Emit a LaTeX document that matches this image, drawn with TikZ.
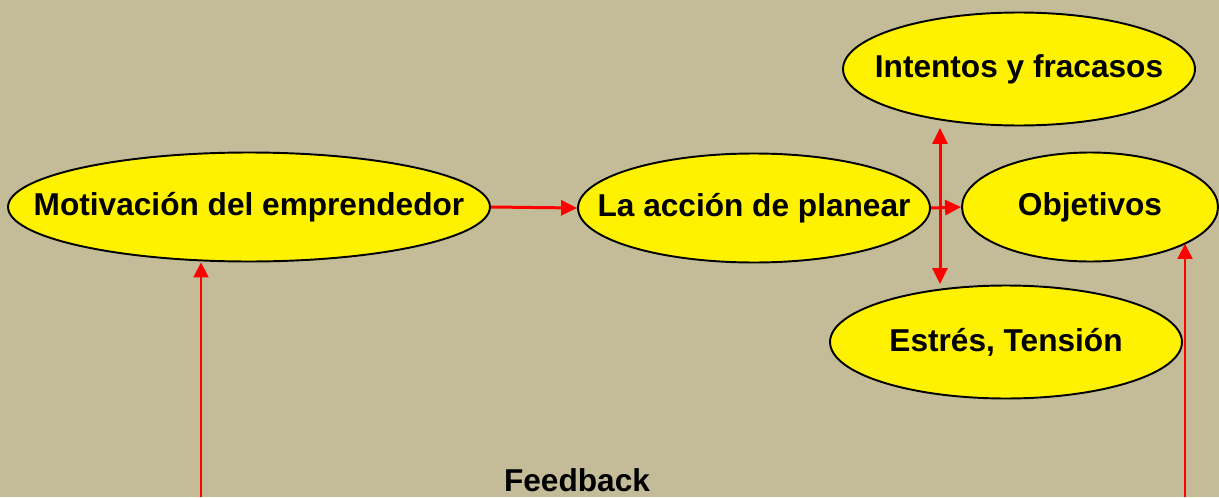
\documentclass[tikz,border=0pt]{standalone}
\usepackage{fontspec}
\setmainfont{Liberation Sans}
\usetikzlibrary{shapes.geometric,arrows.meta}
\definecolor{fondo}{RGB}{196,188,152}
\begin{document}
\begin{tikzpicture}[x=0.02cm,y=-0.02cm,
    idea/.style={shape=ellipse,draw=black,line width=1.1pt,fill=yellow,
      inner sep=0pt,minimum height=2.18cm,
      label={[font=\fontsize{18}{20}\selectfont\bfseries]center:#1}},
    flecha/.style={color=red,line width=1.7pt,-{Triangle[length=0.32cm,width=0.3cm]}},
    retro/.style={color=red,line width=1.2pt,-{Triangle[length=0.3cm,width=0.3cm]}}]
      \fill[fondo] (0,0) rectangle (1219,497);
      \useasboundingbox (0,0) rectangle (1219,497);
      \node[idea={Motivación del emprendedor},minimum width=9.64cm] (M)  at (249,207) {};
      \node[idea={La acción de planear},minimum width=7.04cm] (P)  at (754,208) {};
      \node[idea={Objetivos},minimum width=5.12cm] (O)  at (1090,207) {};
      \node[idea={Intentos y fracasos},minimum width=7.04cm,minimum height=2.26cm] (I)  at (1019,69) {};
      \node[idea={Estrés, Tensión},minimum width=7.04cm,minimum height=2.26cm] (E)  at (1006,342) {};
      \node[font=\fontsize{18}{20}\selectfont\bfseries] (F) at (577,480) {Feedback};
      \coordinate (FL) at (201,497);
      \coordinate (FR) at (1185,497);
      \coordinate (VA) at (940,128);
      \coordinate (VB) at (940,284);
      \path[flecha]
      (M.east) edge (P.west)
      (P.east) edge (O.west)
      (VA) edge[{Triangle[length=0.32cm,width=0.3cm]}-{Triangle[length=0.32cm,width=0.3cm]}] (VB);
      \path[retro]
      (FL) edge (FL |- M.south)
      (FR) edge (FR |- O.-21);
    \end{tikzpicture}
\end{document}
